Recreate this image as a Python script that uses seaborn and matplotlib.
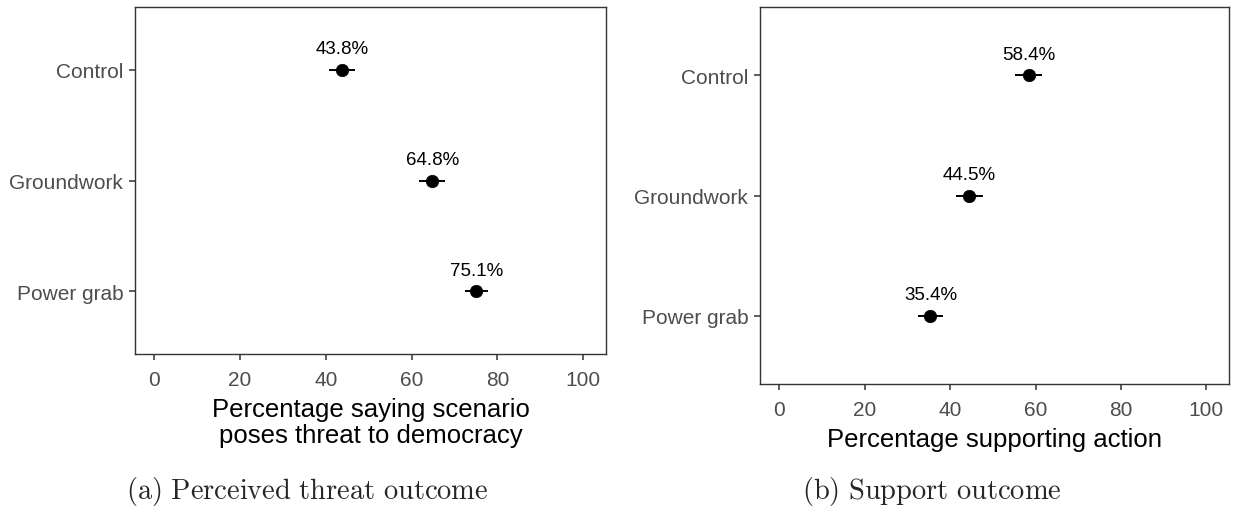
import matplotlib
matplotlib.use("Agg")
import matplotlib.pyplot as plt
import seaborn as sns
import pandas as pd

# Treatment conditions and estimated percentages with their margins
conditions = ["Control", "Groundwork", "Power grab"]
threat_pct = [43.8, 64.8, 75.1]
threat_err = [3.1, 3.0, 2.7]
support_pct = [58.4, 44.5, 35.4]
support_err = [3.1, 3.2, 3.0]
x_ticks = [0, 20, 40, 60, 80, 100]

sns.set_theme(style="white")
plt.rcParams["font.family"] = ["Liberation Sans", "DejaVu Sans"]
plt.rcParams["mathtext.fontset"] = "cm"

fig = plt.figure(figsize=(12.33, 5.10), dpi=100)
ax_a = fig.add_axes([135 / 1233, 1 - 355 / 510, 471 / 1233, 347 / 510])
ax_b = fig.add_axes([760 / 1233, 1 - 385 / 510, 469 / 1233, 377 / 510])


def draw_panel(ax, values, errors, xlabel):
    df = pd.DataFrame({"condition": conditions, "pct": values, "err": errors})
    ax.errorbar(df["pct"], df["condition"], xerr=df["err"], fmt="none",
                ecolor="black", elinewidth=1.4, capsize=0, zorder=2)
    sns.scatterplot(data=df, x="pct", y="condition", ax=ax, color="black",
                    s=80, edgecolor="black", linewidth=0.5, zorder=3, legend=False)
    for i, row in df.iterrows():
        ax.annotate(f"{row['pct']:.1f}%", (row["pct"], i), xytext=(0, 9),
                    textcoords="offset points", ha="center", va="bottom",
                    fontsize=13.5, color="black")
    ax.set_xlim(-4.5, 105.3)
    ax.set_ylim(2.57, -0.57)
    ax.set_xticks(x_ticks)
    ax.set_xticklabels([str(t) for t in x_ticks])
    ax.set_xlabel(xlabel, fontsize=18.5, color="black", labelpad=5.5, linespacing=1.15)
    ax.set_ylabel("")
    ax.tick_params(axis="both", which="major", labelsize=15, labelcolor="#4d4d4d",
                   color="#333333", length=4.5, width=1.1, bottom=True, left=True)
    ax.tick_params(axis="x", pad=7)
    ax.tick_params(axis="y", pad=4)
    for sp in ax.spines.values():
        sp.set_color("#333333")
        sp.set_linewidth(1.0)


draw_panel(ax_a, threat_pct, threat_err,
           "Percentage saying scenario\nposes threat to democracy")
draw_panel(ax_b, support_pct, support_err, "Percentage supporting action")

fig.text(307 / 1233, 1 - 492 / 510, r"$\mathrm{(a)\ Perceived\ threat\ outcome}$",
         ha="center", va="center", fontsize=20.5)
fig.text(932 / 1233, 1 - 492 / 510, r"$\mathrm{(b)\ Support\ outcome}$",
         ha="center", va="center", fontsize=20.5)

fig.savefig("out.png", dpi=100, facecolor="white")
